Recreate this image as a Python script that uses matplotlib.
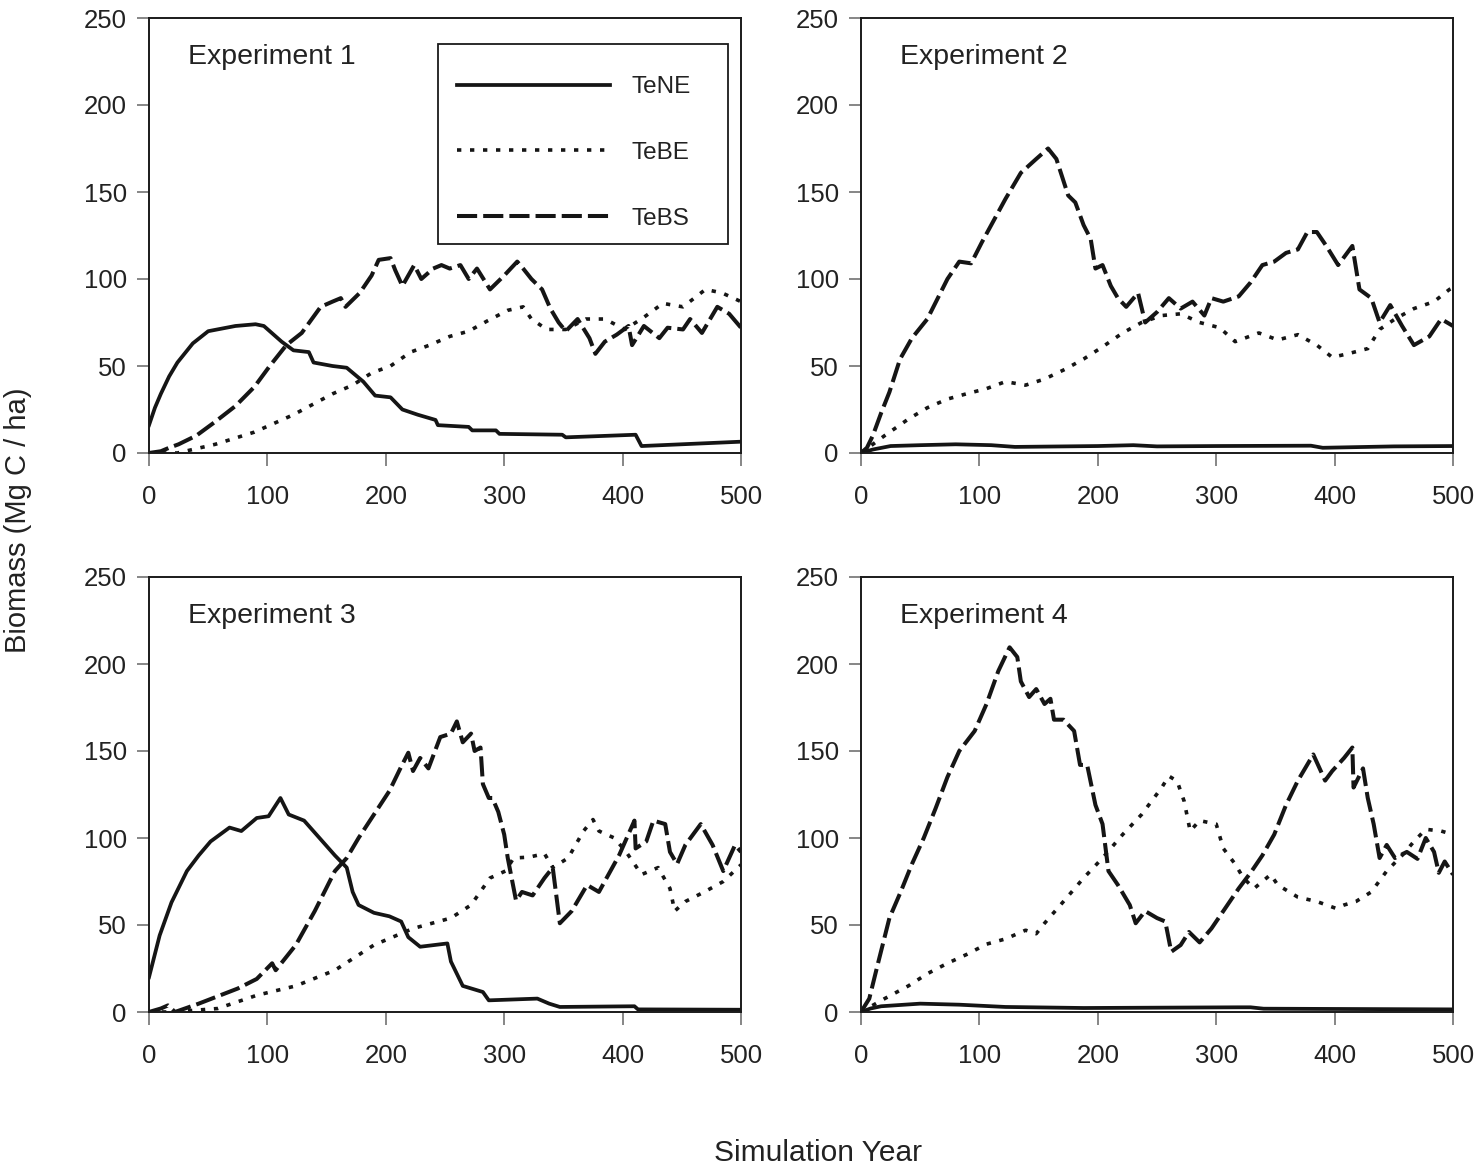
import matplotlib
matplotlib.use("Agg")
import matplotlib.pyplot as plt
from matplotlib.patches import Rectangle

plt.rcParams['font.family'] = ['Liberation Sans', 'DejaVu Sans']

# ---- data (year, biomass Mg C / ha) ----
# Experiment 1
e1_ne_x = [0, 5, 10, 17, 24, 37, 50, 73, 90, 97, 112, 122, 135, 139, 155, 167, 181, 191, 204, 214, 227, 242, 244, 270, 273, 293, 296, 349, 352, 411, 416, 500]
e1_ne_y = [16, 26, 34, 44, 52, 63, 70, 73, 74, 73, 64, 59, 58, 52, 50, 49, 41, 33, 32, 25, 22, 19, 16, 15, 13, 13, 11, 10.5, 9, 10.5, 4, 6.5]
e1_be_x = [0, 24, 56, 89, 122, 155, 172, 188, 204, 221, 237, 254, 270, 286, 303, 316, 323, 336, 352, 369, 385, 402, 418, 434, 451, 470, 484, 500]
e1_be_y = [0, 0, 5, 12, 22, 34, 39, 46, 50, 58, 62, 67, 70, 76, 82, 84, 77, 71, 71, 77, 77, 71, 78, 86, 84, 94, 92, 87]
e1_bs_x = [0, 10, 17, 25, 40, 56, 73, 89, 102, 116, 129, 145, 155, 162, 166, 178, 188, 194, 204, 208, 214, 224, 230, 240, 247, 254, 263, 270, 277, 288, 300, 311, 316, 323, 332, 339, 346, 352, 362, 372, 377, 385, 395, 405, 408, 418, 431, 438, 451, 457, 467, 480, 490, 500]
e1_bs_y = [0, 1, 3, 5, 10, 18, 27, 38, 50, 62, 69, 84, 87, 89, 84, 92, 102, 111, 112, 105, 96, 108, 100, 106, 108, 106, 108, 100, 106, 94, 102, 110, 106, 100, 94, 83, 75, 70, 77, 66, 57, 64, 68, 73, 62, 73, 66, 72, 71, 77, 69, 84, 80, 72]

# Experiment 2
e2_ne_x = [0, 10, 25, 50, 80, 110, 130, 200, 230, 250, 300, 380, 390, 450, 500]
e2_ne_y = [0, 2, 4, 4.5, 5, 4.5, 3.5, 4, 4.5, 3.8, 4, 4.2, 3, 3.8, 4]
e2_be_x = [0, 20, 40, 56, 73, 89, 106, 122, 139, 155, 172, 188, 204, 221, 237, 254, 270, 286, 303, 316, 336, 352, 369, 385, 398, 411, 428, 438, 451, 467, 484, 497, 500]
e2_be_y = [0, 10, 19.5, 26, 31, 34, 37, 41, 39, 42.5, 48, 54, 61, 69, 75, 79, 80, 75, 72, 64, 69, 65, 68, 62, 55, 57, 60, 71, 77, 83, 87, 94, 95]
e2_bs_x = [0, 5, 10, 17, 24, 33, 43, 56, 73, 83, 93, 102, 122, 135, 148, 158, 165, 175, 181, 188, 194, 198, 204, 211, 217, 224, 234, 240, 250, 260, 270, 280, 290, 296, 306, 319, 329, 339, 349, 359, 369, 377, 385, 393, 403, 415, 421, 431, 438, 447, 457, 467, 480, 490, 500]
e2_bs_y = [0, 3, 10, 23, 35, 54, 66, 77, 100, 110, 109, 121, 146, 161, 169, 175, 169, 148, 144, 131, 123, 106, 108, 96, 89, 84, 92, 75, 81, 89, 83, 87, 79, 89, 87, 90, 98, 108, 110, 115, 117, 127, 127, 119, 108, 119, 94, 89, 75, 85, 73, 62, 67, 77, 73]

# Experiment 3
e3_ne_x = [0, 9, 19, 32, 42, 52, 68, 78, 91, 101, 111, 118, 131, 144, 157, 167, 172, 177, 190, 203, 213, 219, 229, 252, 255, 265, 282, 287, 328, 338, 347, 410, 413, 500]
e3_ne_y = [20, 44, 63, 81, 90, 98, 106, 104, 111.5, 112.5, 123, 113.5, 110, 100, 90, 83, 69, 61.5, 57, 55, 52, 43, 37.5, 39.4, 29, 15, 11.5, 6.7, 7.7, 4.8, 2.9, 3.3, 1.5, 1.3]
e3_be_x = [0, 20, 58, 91, 124, 157, 190, 223, 255, 272, 288, 301, 308, 321, 334, 341, 354, 367, 375, 380, 393, 403, 416, 430, 440, 444, 453, 469, 485, 500]
e3_be_y = [0, 0, 2, 9.6, 15, 24, 38.5, 48, 54, 61.5, 77, 81, 88.5, 89, 91, 83, 88.5, 104, 110.6, 104, 100, 92, 79, 83, 71, 58, 63.5, 69, 75, 84.6]
e3_bs_x = [0, 10, 16, 22, 42, 75, 91, 104, 107, 124, 140, 157, 167, 177, 190, 203, 213, 219, 223, 229, 236, 246, 255, 260, 265, 272, 275, 280, 282, 287, 290, 295, 300, 303, 310, 315, 324, 334, 341, 347, 357, 370, 380, 397, 410, 411, 420, 426, 436, 440, 446, 453, 466, 476, 485, 495, 500]
e3_bs_y = [0, 2, 3.8, 0, 4.8, 13.5, 19, 28, 24, 38.5, 58, 81, 88.5, 100, 113.5, 127, 141, 149, 138.5, 146, 140, 158, 160, 167, 155, 160, 150, 152, 131, 123, 123, 115, 102, 88.5, 64, 69, 67, 77, 83, 51, 58, 73, 69, 90, 110, 94, 98, 110, 108, 92, 85, 96, 108, 96, 81, 96, 92]

# Experiment 4
e4_ne_x = [0, 8, 17, 50, 83, 122, 188, 319, 329, 340, 500]
e4_ne_y = [0, 2, 3.3, 4.8, 4.2, 2.9, 2.3, 2.7, 2.7, 1.9, 1.5]
e4_be_x = [0, 20, 40, 56, 73, 89, 106, 122, 139, 148, 155, 171, 188, 204, 221, 237, 254, 260, 267, 273, 278, 286, 300, 306, 316, 323, 332, 346, 352, 369, 385, 401, 408, 418, 431, 444, 457, 467, 477, 490, 500]
e4_be_y = [0, 7.7, 15, 22, 28, 33, 39, 42, 47, 45, 51, 63.5, 77, 88.5, 102, 113.5, 129, 135.6, 132.7, 121, 104, 110, 108, 94, 85, 77, 71, 79, 73, 66, 63.5, 59.6, 61.5, 63.5, 69, 81, 90, 98, 105, 104, 102]
e4_bs_x = [0, 7, 14, 24, 33.5, 43, 53, 63, 73, 83, 96, 106, 116, 125.5, 132, 135, 142, 148, 155, 160, 163, 171, 180, 185, 191, 198, 204, 209, 217, 227, 232, 240, 250, 257, 262, 270, 277, 286, 296, 306, 319, 329, 339, 349, 359, 369, 382, 392, 398, 408, 415, 416, 424, 428, 433, 438, 444, 451, 461, 470, 477, 484, 488, 493, 500]
e4_bs_y = [0, 7.7, 27, 54, 69, 85, 100, 117, 135, 150, 161.5, 177, 196, 209.6, 204, 190, 181, 185.6, 177, 180, 168, 168, 161.5, 142, 142, 119, 108, 81, 73, 61.5, 51, 58, 54, 52, 34.6, 38.5, 46, 40, 48, 58, 71, 80, 90, 102, 119, 133, 148, 133, 138.5, 146, 152, 129, 140, 123, 108, 88.5, 96, 88.5, 92, 88, 100, 92, 80, 86.5, 79]

experiments = [
    ("Experiment 1", (e1_ne_x, e1_ne_y), (e1_be_x, e1_be_y), (e1_bs_x, e1_bs_y)),
    ("Experiment 2", (e2_ne_x, e2_ne_y), (e2_be_x, e2_be_y), (e2_bs_x, e2_bs_y)),
    ("Experiment 3", (e3_ne_x, e3_ne_y), (e3_be_x, e3_be_y), (e3_bs_x, e3_bs_y)),
    ("Experiment 4", (e4_ne_x, e4_ne_y), (e4_be_x, e4_be_y), (e4_bs_x, e4_bs_y)),
]
species = ["TeNE", "TeBE", "TeBS"]
x_ticks = [0, 100, 200, 300, 400, 500]
y_ticks = [0, 50, 100, 150, 200, 250]

# ---- figure layout (pixel positions of the four frames) ----
W, H = 1482, 1173
fig = plt.figure(figsize=(W / 100, H / 100), dpi=100)
frames = [(149, 18), (861, 18), (149, 577), (861, 577)]
pw, ph = 592, 435

line_color = "#151515"
text_color = "#222222"
styles = [
    dict(lw=2.7, ls="-"),
    dict(lw=2.6, ls=(0, (1.2, 2.4))),
    dict(lw=2.9, ls=(0, (5.0, 1.5))),
]

axes = []
for (left, top), (title, *series) in zip(frames, experiments):
    ax = fig.add_axes([left / W, 1 - (top + ph) / H, pw / W, ph / H])
    handles = []
    for (xs, ys), st in zip(series, styles):
        h, = ax.plot(xs, ys, color=line_color, dash_capstyle="butt", **st)
        handles.append(h)
    ax.set_xlim(0, 500)
    ax.set_ylim(0, 250)
    ax.set_xticks(x_ticks)
    ax.set_yticks(y_ticks)
    ax.tick_params(direction="out", length=9, width=1.1, color="#666666",
                   labelsize=18.5, labelcolor=text_color)
    ax.tick_params(axis="x", pad=14)
    ax.tick_params(axis="y", pad=7)
    for sp in ax.spines.values():
        sp.set_linewidth(1.4)
        sp.set_color("#1a1a1a")
    ax.text(0.066, 0.91, title, transform=ax.transAxes, fontsize=20.5,
            color=text_color, va="center", ha="left")
    axes.append((ax, handles))

# legend in the first panel: entries without frame, box drawn separately
ax0, h0 = axes[0]
leg = ax0.legend(h0, species, loc="upper left",
                 bbox_to_anchor=((457 - 149) / pw, (453 - 76) / ph),
                 borderaxespad=0, borderpad=0, fontsize=17.5,
                 handlelength=6.3, handletextpad=0.9, labelspacing=1.8,
                 frameon=False)
for t in leg.get_texts():
    t.set_color(text_color)
box = Rectangle(((438 - 149) / pw, (453 - 244) / ph), (728 - 438) / pw,
                (244 - 44) / ph, transform=ax0.transAxes, fill=False,
                edgecolor="#1a1a1a", lw=1.3, zorder=5)
ax0.add_patch(box)

fig.text(18 / W, 1 - 520 / H, "Biomass (Mg C / ha)", rotation=90,
         fontsize=21, color=text_color, ha="center", va="center")
fig.text(818 / W, 1 - 1153 / H, "Simulation Year", fontsize=21.5,
         color=text_color, ha="center", va="center")

fig.savefig("out.png", dpi=100, facecolor="white")
